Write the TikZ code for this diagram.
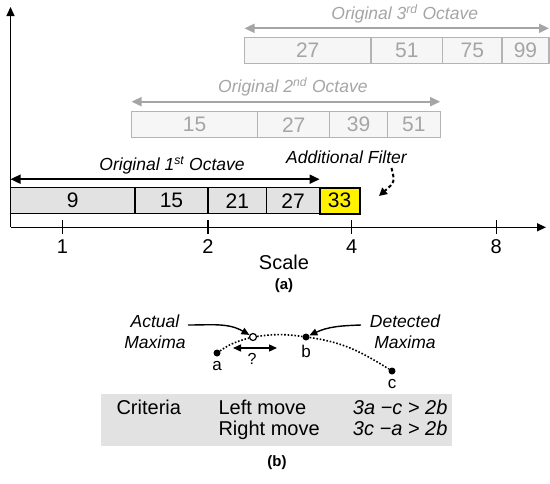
\documentclass[tikz,border=0pt]{standalone}
\usepackage{fontspec}
\setmainfont{Liberation Sans}
\usetikzlibrary{positioning,arrows.meta}
\definecolor{cellgray}{RGB}{226,226,226}
\definecolor{ghost}{RGB}{165,165,165}
\definecolor{ghostline}{RGB}{180,180,180}
\definecolor{ghostfill}{RGB}{246,246,246}
\tikzset{
  cell/.style={draw, line width=1.2pt, fill=cellgray, minimum height=26pt, inner sep=0pt, outer sep=0pt, font=\fontsize{21}{24}\selectfont},
  ghostcell/.style={cell, draw=ghostline, fill=ghostfill, text=ghost},
  octave/.style={{Triangle[length=10pt,width=9pt]}-{Triangle[length=10pt,width=9pt]}, line width=1.7pt},
  lbl/.style={font=\fontsize{17.5}{21}\selectfont\itshape},
  txt/.style={font=\fontsize{20}{24}\selectfont},
  small/.style={font=\fontsize{17}{20}\selectfont},
  dot/.style={circle, fill, inner sep=0pt, minimum size=7pt},
}
\begin{document}
\begin{tikzpicture}[x=1pt,y=-1pt]
	\useasboundingbox (0,0) rectangle (550,483);
	% axes
	\coordinate (O) at (10.5,227.3);
	\coordinate (ytop) at (10.5,7);
	\coordinate (xend) at (546,227.3);
	\draw[line width=1.3pt,-{Triangle[length=9pt,width=8pt]}] (O) -- (ytop);
	\draw[line width=1.3pt,-{Triangle[length=9pt,width=8pt]}] (O) -- (xend);
	\foreach \x/\v in {62.4/1,208/2,351.8/4,496.3/8}{
		\draw[line width=1.2pt] (\x,220) -- (\x,234.3);
		\node[txt] (t\v) at (\x,247) {\v};
	}
	\node[txt] (scale) at (284,262) {Scale};
	\node[font=\fontsize{15}{18}\selectfont\bfseries] (capa) at (284,286) {(a)};
	%
	% 3rd octave
	\node[ghostcell, minimum width=126.5pt, anchor=north west] (o3a) at (244.5,37.3) {27};
	\node[ghostcell, minimum width=71.6pt, right=0pt of o3a] (o3b) {51};
	\node[ghostcell, minimum width=59.4pt, right=0pt of o3b] (o3c) {75};
	\node[ghostcell, minimum width=47pt, right=0pt of o3c] (o3d) {99};
	\draw[octave, ghost] ([yshift=9pt]o3a.north west) -- ([yshift=9pt]o3d.north east)
		node[midway, above=1pt, lbl, text=ghost, xshift=8pt] (l3) {Original 3\textsuperscript{rd} Octave};
	%
	% 2nd octave
	\node[ghostcell, minimum width=126.3pt, anchor=north west] (o2a) at (131.5,111.7) {15};
	\node[ghostcell, minimum width=71.9pt, right=0pt of o2a] (o2b) {27};
	\node[ghostcell, minimum width=57.9pt, right=0pt of o2b] (o2c) {39};
	\node[ghostcell, minimum width=52.6pt, right=0pt of o2c] (o2d) {51};
	\draw[octave, ghost] ([yshift=10pt]o2a.north west) -- ([yshift=10pt]o2d.north east)
		node[midway, above=1pt, lbl, text=ghost, xshift=7pt] (l2) {Original 2\textsuperscript{nd} Octave};
	%
	% 1st octave
	\node[cell, minimum width=124.5pt, anchor=north west] (o1a) at (10.5,187.7) {9};
	\node[cell, minimum width=73pt, right=0pt of o1a] (o1b) {15};
	\node[cell, minimum width=58.6pt, right=0pt of o1b] (o1c) {21};
	\node[cell, minimum width=53pt, right=0pt of o1c] (o1d) {27};
	\node[cell, line width=2pt, fill=yellow, minimum width=40pt, right=0pt of o1d] (o1e) {33};
	\draw[octave] ([yshift=8.5pt]o1a.north west) -- ([yshift=8.5pt]o1d.north east)
		node[midway, above=1pt, lbl, xshift=7pt] (l1) {Original 1\textsuperscript{st} Octave};
	%
	\node[lbl] (addf) at (346.5,157) {Additional Filter};
	\coordinate (ftip) at (379,196);
	\draw[line width=2pt, dash pattern=on 3.5pt off 2.5pt, -{Triangle[length=8pt,width=8pt]}]
		([xshift=45pt,yshift=-1pt]addf.south) .. controls (395,182) .. (ftip);
	%
	% (b) maxima
	\node[lbl, align=center] (act) at (155,332) {Actual\\Maxima};
	\node[lbl, align=center] (det) at (405,332) {Detected\\Maxima};
	\node[dot] (a) at (217,353) {};
	\node[circle, draw, line width=1.2pt, inner sep=0pt, minimum size=7pt] (m) at (253,337) {};
	\node[dot] (b) at (306,337) {};
	\node[dot] (c) at (392,371) {};
	\node[small, below=1pt of a] (la) {a};
	\node[small, below=1pt of b] (lb) {b};
	\node[small, below=1pt of c] (lc) {c};
	\draw[line width=1.6pt, dash pattern=on 1.6pt off 1.8pt] (a) to[out=35,in=195] (m) to[out=8,in=172] (b) to[out=-8,in=148] (c);
	%
	\coordinate (actstart) at (188,325);
	\coordinate (detstart) at (361,325);
	\draw[line width=1.4pt, -{Triangle[length=8pt,width=7pt]}] (actstart) to[out=0,in=150] (m);
	\draw[line width=1.4pt, -{Triangle[length=8pt,width=7pt]}] (detstart) to[out=182,in=25] (b);
	\coordinate (ql) at (233,348);
	\coordinate (qr) at (277,348);
	\draw[line width=1.4pt, {Triangle[length=8pt,width=7pt]}-{Triangle[length=8pt,width=7pt]}] (ql) -- (qr);
	\node[font=\fontsize{16}{18}\selectfont] (q) at (252,359) {?};
	%
	% criteria table
	\fill[cellgray] (101,394) rectangle (452,446);
	\node[txt, anchor=base west] (crit) at (113,414) {Criteria};
	\node[txt, anchor=base west] (lmove) at (215,414) {Left move};
	\node[txt, anchor=base west] (rmove) at (215,435) {Right move};
	\node[txt, anchor=base east] (lform) at (451,414) {\itshape 3a −c > 2b};
	\node[txt, anchor=base east] (rform) at (451,435) {\itshape 3c −a > 2b};
	\node[font=\fontsize{15}{18}\selectfont\bfseries] (capb) at (277,463) {(b)};
\end{tikzpicture}
\end{document}
